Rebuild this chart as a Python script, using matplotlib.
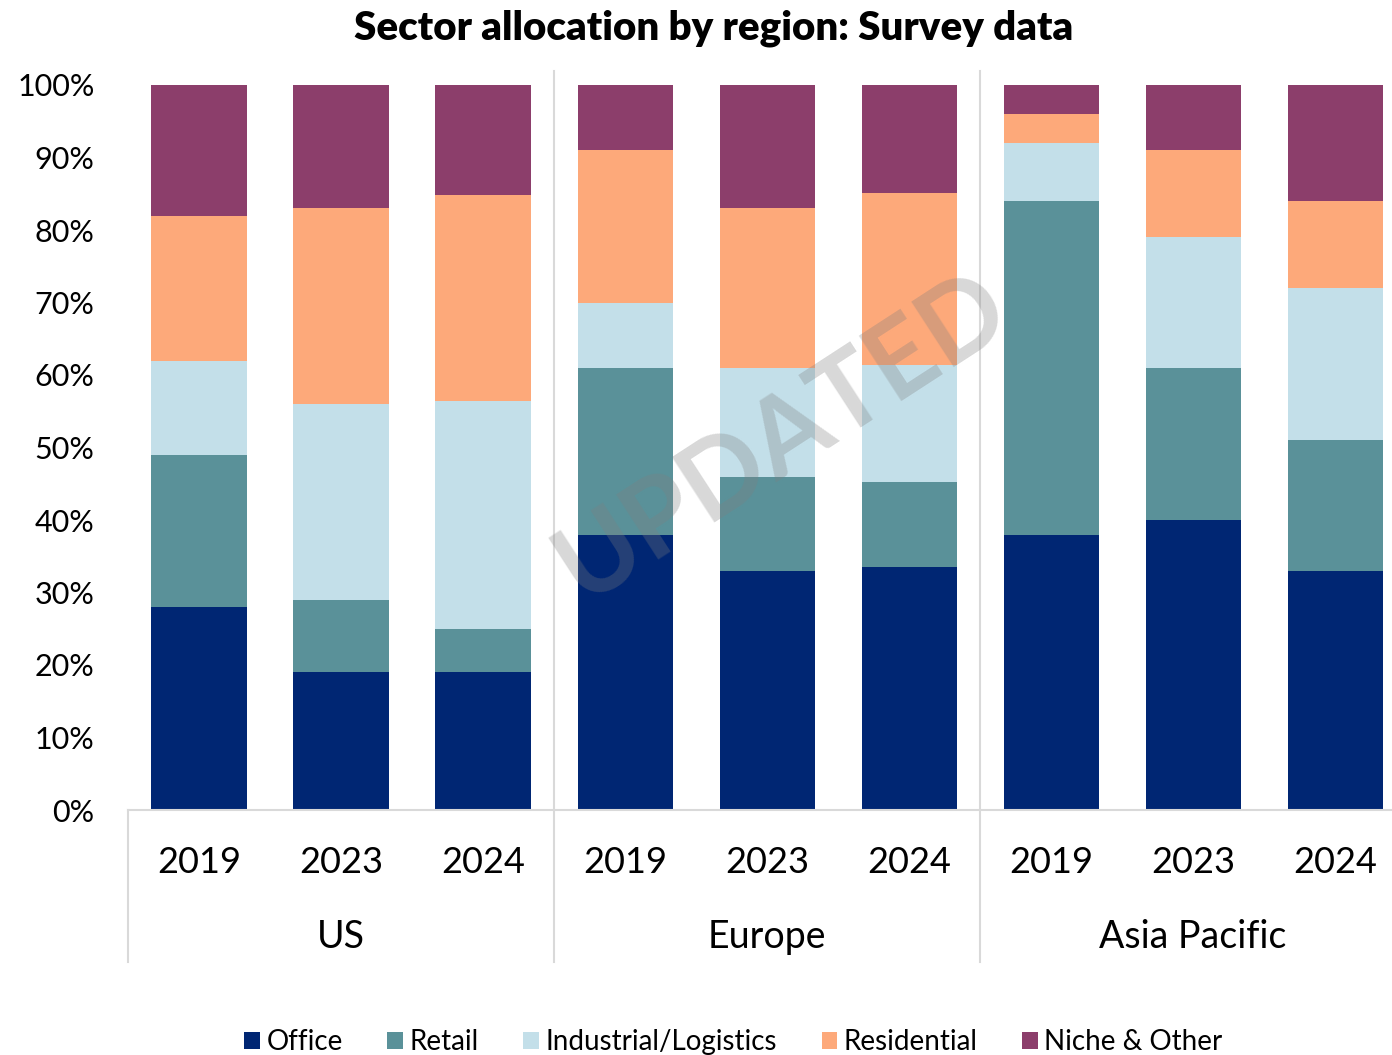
import numpy as np
import matplotlib.pyplot as plt
from matplotlib.patches import Patch

plt.rcParams['font.family'] = ['Lato', 'DejaVu Sans']

regions = ['US', 'Europe', 'Asia Pacific']
years = ['2019', '2023', '2024']
sectors = ['Office', 'Retail', 'Industrial/Logistics', 'Residential', 'Niche & Other']
colors = ['#002673', '#5a9199', '#c3dfe9', '#fda97a', '#8c3e6b']

# shares (%) per bar: US 19/23/24, Europe 19/23/24, Asia Pacific 19/23/24
office = [28, 19, 19, 38, 33, 33.5, 38, 40, 33]
retail = [21, 10, 6, 23, 13, 11.7, 46, 21, 18]
industrial = [13, 27, 31.4, 9, 15, 16.2, 8, 18, 21]
residential = [20, 27, 28.4, 21, 22, 23.7, 4, 12, 12]
niche = [18, 17, 15.2, 9, 17, 14.9, 4, 9, 16]

W, H = 1392, 1055
fig = plt.figure(figsize=(W / 100, H / 100), dpi=100)
ax = fig.add_axes([128 / W, 1 - 810 / H, 1264 / W, 725 / H])

x = np.arange(len(office))
bottom = np.zeros(len(x))
for vals, c, name in zip([office, retail, industrial, residential, niche], colors, sectors):
    v = np.array(vals) / 100
    ax.bar(x, v, bottom=bottom, width=0.67, color=c, label=name, zorder=2)
    bottom += v

ax.set_xlim(-0.5, 8.4)
ax.set_ylim(0, 1)
ticks = np.arange(0, 1.01, 0.1)
ax.set_yticks(ticks)
ax.set_yticklabels([f'{int(round(t * 100))}%' for t in ticks], fontsize=22)
ax.tick_params(axis='y', length=0, pad=24)
ax.set_xticks([])
for s in ['top', 'right', 'left']:
    ax.spines[s].set_visible(False)
ax.spines['bottom'].set_color('#d9d9d9')
ax.spines['bottom'].set_linewidth(1.5)

# group separators
sep_col = '#d9d9d9'
ax.plot([-0.5, -0.5], [0, -0.21], color=sep_col, lw=1.5, clip_on=False)
for xs in [2.5, 5.5]:
    ax.plot([xs, xs], [1.02, -0.21], color=sep_col, lw=1.5, clip_on=False, zorder=1)

# category labels
for i, xi in enumerate(x):
    ax.text(xi, -0.072, years[i % 3], ha='center', va='center', fontsize=26)
for g, r in enumerate(regions):
    ax.text(g * 3 + 1, -0.175, r, ha='center', va='center', fontsize=27)

fig.text(0.513, 1 - 28 / H, 'Sector allocation by region: Survey data',
         ha='center', va='center', fontsize=29, fontweight='heavy')

# watermark
fig.text(782 / W, 1 - 437 / H, 'UPDATED', ha='center', va='center', fontsize=78,
         rotation=33, color='#7f7f7f', alpha=0.3, fontweight='bold')

handles = [Patch(facecolor=c, label=n) for c, n in zip(colors, sectors)]
fig.legend(handles=handles, loc='center', bbox_to_anchor=(0.527, 1 - 1042 / H), ncol=5,
           frameon=False, handlelength=0.55, handleheight=0.55,
           handletextpad=0.25, columnspacing=1.6,
           prop={'family': ['Lato', 'DejaVu Sans'], 'size': 20})

fig.savefig('out.png', dpi=100)
